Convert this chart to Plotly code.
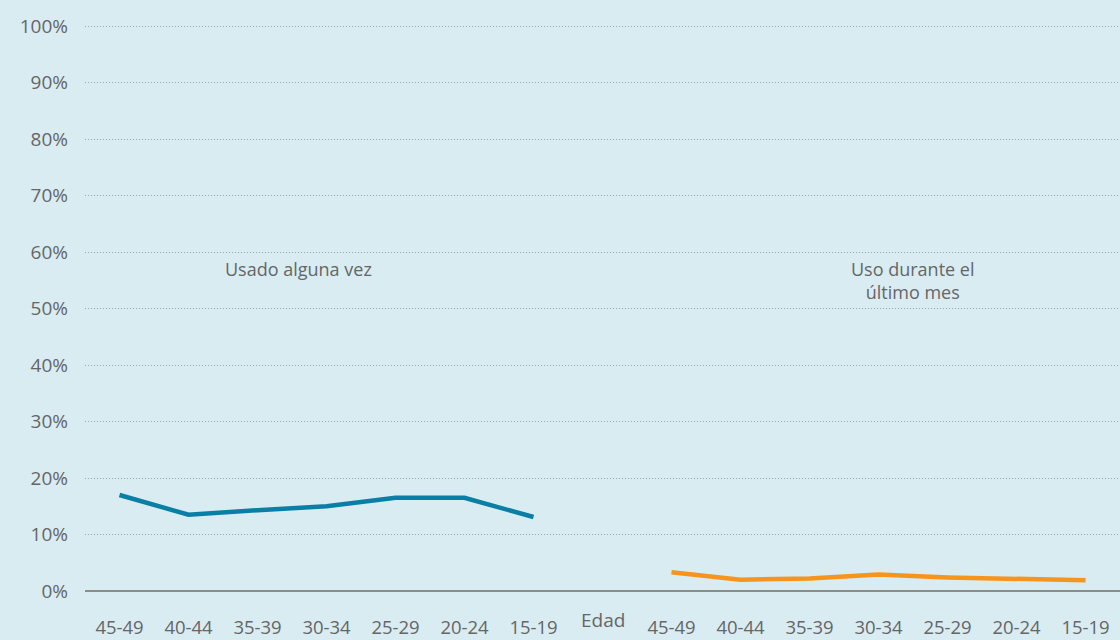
import plotly.graph_objects as go

# Data
grupos = ["45-49", "40-44", "35-39", "30-34", "25-29", "20-24", "15-19"]
usado_alguna_vez = [17.0, 13.5, 14.3, 15.0, 16.5, 16.5, 13.1]
uso_ultimo_mes = [3.3, 2.0, 2.2, 2.9, 2.4, 2.2, 1.9]
y_ticks = [0, 10, 20, 30, 40, 50, 60, 70, 80, 90, 100]

x_izq = list(range(len(grupos)))
x_der = [i + len(grupos) + 1 for i in range(len(grupos))]
tick_text = grupos + [""] + grupos

fig = go.Figure()
fig.add_trace(go.Scatter(x=x_izq, y=usado_alguna_vez, mode="lines",
                         line=dict(color="#0a7fa6", width=4.5),
                         name="Usado alguna vez"))
fig.add_trace(go.Scatter(x=x_der, y=uso_ultimo_mes, mode="lines",
                         line=dict(color="#f7941d", width=4.5),
                         name="Uso durante el último mes"))

fig.update_layout(
    width=1120, height=640,
    margin=dict(l=85, r=0, t=25, b=49),
    paper_bgcolor="#d9ecf2",
    plot_bgcolor="#d9ecf2",
    showlegend=False,
    font=dict(family="Open Sans", size=19, color="#666666"),
    xaxis=dict(
        range=[-0.5, 14.5],
        tickvals=list(range(15)),
        ticktext=tick_text,
        showgrid=False,
        showline=False,
        zeroline=False,
        ticks="",
        ticklabelstandoff=23,
        tickfont=dict(size=18.5),
        automargin=False,
        fixedrange=True,
    ),
    yaxis=dict(
        range=[0, 100.2],
        tickvals=y_ticks,
        ticktext=[f"{v}%" for v in y_ticks],
        showgrid=True,
        gridcolor="#9aa4a8",
        griddash="1px,2px",
        gridwidth=1,
        zeroline=True,
        zerolinecolor="#8c8c8c",
        zerolinewidth=1.5,
        ticklabelstandoff=16,
        tickfont=dict(size=19),
        automargin=False,
    ),
    annotations=[
        dict(x=2.6, y=57, xref="x", yref="y", text="Usado alguna vez",
             showarrow=False, font=dict(size=18, color="#666666")),
        dict(x=11.5, y=55, xref="x", yref="y", text="Uso durante el<br>último mes",
             showarrow=False, font=dict(size=18, color="#666666")),
        dict(x=7, y=-0.051, xref="x", yref="paper", text="Edad", yanchor="middle",
             showarrow=False, font=dict(size=19, color="#666666")),
    ],
)

fig.write_html("out.html", config={"displayModeBar": False},
               post_script="document.body.style.margin='0';")
